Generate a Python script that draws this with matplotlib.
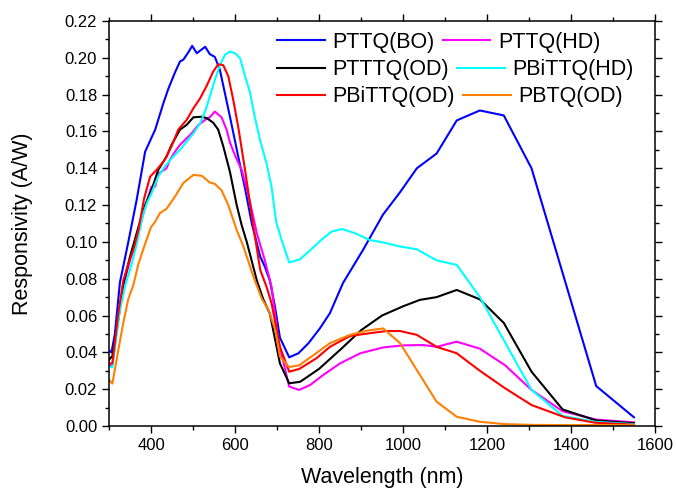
import matplotlib
matplotlib.use('Agg')
from matplotlib import pyplot as plt
from matplotlib.ticker import MultipleLocator
from matplotlib.legend import Legend

plt.rcParams['font.family'] = ['Liberation Sans', 'DejaVu Sans']

# PTTQ(BO)
bo_wl = [300, 306, 314, 326, 346, 366, 386, 410, 429, 441, 457, 469, 477, 489, 498,
         509, 529, 540, 552, 564, 588, 608, 624, 640, 660, 671, 683, 695, 707, 729,
         751, 775, 802, 826, 857, 905, 952, 993, 1033, 1080, 1128, 1183, 1240, 1306,
         1460, 1550]
bo_resp = [0.041, 0.040, 0.050, 0.078, 0.100, 0.123, 0.149, 0.161, 0.175, 0.183, 0.192,
           0.198, 0.199, 0.203, 0.2065, 0.2025, 0.206, 0.202, 0.2005, 0.1935, 0.168,
           0.146, 0.129, 0.110, 0.092, 0.0866, 0.079, 0.065, 0.048, 0.0373, 0.0395,
           0.045, 0.053, 0.0613, 0.0776, 0.0957, 0.1147, 0.127, 0.140, 0.148, 0.166,
           0.1714, 0.1687, 0.140, 0.0217, 0.0047]

# PTTQ(HD)
hd_wl = [300, 308, 320, 335, 350, 370, 390, 401, 410, 417, 437, 445, 457, 469, 481,
         497, 513, 529, 540, 552, 568, 580, 588, 600, 616, 632, 652, 671, 687, 703,
         729, 753, 779, 810, 850, 898, 953, 1001, 1048, 1080, 1128, 1183, 1243, 1306,
         1380, 1460, 1550]
hd_resp = [0.033, 0.033, 0.055, 0.077, 0.090, 0.106, 0.122, 0.130, 0.130, 0.137, 0.140,
           0.1446, 0.149, 0.1527, 0.1554, 0.159, 0.1636, 0.1663, 0.1677, 0.1708, 0.1677,
           0.161, 0.154, 0.147, 0.139, 0.1255, 0.1047, 0.090, 0.0757, 0.0467, 0.0214,
           0.0196, 0.0223, 0.0277, 0.034, 0.0395, 0.0427, 0.0438, 0.044, 0.043, 0.0458,
           0.042, 0.033, 0.0196, 0.008, 0.0035, 0.002]

# PTTTQ(OD)
ttt_wl = [300, 308, 320, 335, 350, 370, 386, 401, 417, 437, 449, 469, 485, 501, 521,
          533, 548, 560, 572, 588, 604, 616, 628, 652, 667, 683, 707, 729, 755, 800,
          850, 900, 950, 1000, 1040, 1080, 1128, 1183, 1240, 1306, 1380, 1460, 1550]
ttt_resp = [0.036, 0.038, 0.055, 0.078, 0.092, 0.108, 0.120, 0.128, 0.139, 0.1464,
            0.1527, 0.161, 0.1636, 0.1677, 0.168, 0.1672, 0.1648, 0.161, 0.152, 0.138,
            0.120, 0.109, 0.100, 0.079, 0.069, 0.061, 0.034, 0.0232, 0.024, 0.031,
            0.0413, 0.052, 0.060, 0.065, 0.0685, 0.070, 0.0739, 0.0688, 0.056, 0.0295,
            0.009, 0.003, 0.0015]

# PBiTTQ(HD)
bihd_wl = [300, 308, 326, 338, 354, 366, 382, 390, 401, 417, 433, 453, 469, 485, 501,
           517, 529, 540, 552, 564, 576, 588, 600, 612, 624, 636, 646, 660, 675, 687,
           698, 711, 729, 755, 780, 805, 830, 855, 886, 921, 953, 993, 1033, 1080, 1128,
           1183, 1306, 1380, 1457, 1550]
bihd_resp = [0.032, 0.032, 0.063, 0.0757, 0.088, 0.099, 0.1156, 0.121, 0.1264, 0.1355,
             0.141, 0.1464, 0.150, 0.1545, 0.159, 0.1645, 0.171, 0.179, 0.188, 0.196,
             0.2016, 0.2034, 0.2025, 0.1998, 0.190, 0.181, 0.169, 0.155, 0.1427, 0.130,
             0.111, 0.101, 0.0888, 0.0906, 0.0957, 0.101, 0.1056, 0.107, 0.1047, 0.101,
             0.0997, 0.0975, 0.096, 0.090, 0.0875, 0.070, 0.0196, 0.0055, 0.0023, 0.001]

# PBiTTQ(OD)
biod_wl = [300, 308, 322, 334, 346, 358, 370, 384, 398, 413, 433, 449, 465, 485, 501,
           517, 533, 548, 560, 572, 584, 596, 608, 624, 644, 660, 675, 687, 707, 729,
           753, 794, 826, 874, 921, 961, 993, 1033, 1080, 1128, 1183, 1243, 1306, 1386,
           1457, 1550]
biod_resp = [0.034, 0.034, 0.061, 0.079, 0.088, 0.0957, 0.1065, 0.124, 0.1355, 0.139,
             0.1446, 0.152, 0.161, 0.1663, 0.1726, 0.178, 0.185, 0.1925, 0.1965, 0.196,
             0.190, 0.177, 0.162, 0.139, 0.108, 0.0848, 0.0757, 0.0667, 0.043, 0.0295,
             0.031, 0.0368, 0.043, 0.0489, 0.0504, 0.0516, 0.0516, 0.0495, 0.043, 0.0395,
             0.030, 0.0205, 0.0114, 0.0047, 0.0018, 0.0007]

# PBTQ(OD)
bt_wl = [300, 308, 322, 334, 346, 358, 370, 386, 400, 410, 421, 437, 457, 477, 501,
         521, 540, 552, 568, 584, 604, 620, 644, 664, 680, 696, 707, 729, 753, 790,
         826, 874, 914, 953, 993, 1080, 1128, 1183, 1243, 1310, 1380, 1460, 1550]
bt_resp = [0.025, 0.023, 0.041, 0.056, 0.069, 0.0766, 0.088, 0.099, 0.108, 0.111,
           0.1156, 0.118, 0.1246, 0.132, 0.1364, 0.1359, 0.1323, 0.1315, 0.128, 0.120,
           0.1065, 0.0975, 0.081, 0.069, 0.063, 0.052, 0.0377, 0.032, 0.033, 0.039,
           0.045, 0.0495, 0.0518, 0.053, 0.045, 0.0132, 0.005, 0.0023, 0.001, 0.0006,
           0.0005, 0.0005, 0.0005]

series = [
    ('PTTQ(BO)', bo_wl, bo_resp, '#0000ff'),
    ('PTTQ(HD)', hd_wl, hd_resp, '#ff00ff'),
    ('PTTTQ(OD)', ttt_wl, ttt_resp, '#000000'),
    ('PBiTTQ(HD)', bihd_wl, bihd_resp, '#00ffff'),
    ('PBiTTQ(OD)', biod_wl, biod_resp, '#ff0000'),
    ('PBTQ(OD)', bt_wl, bt_resp, '#ff8000'),
]

fig = plt.figure(figsize=(6.76, 4.9), dpi=100)
ax = fig.add_axes([109 / 676, 64 / 490, 546 / 676, 405 / 490])

handles = []
for name, wl, resp, c in series:
    line, = ax.plot(wl, resp, color=c, lw=1.5, label=name)
    handles.append(line)

ax.set_xlim(300, 1600)
ax.set_ylim(0, 0.22)
ax.xaxis.set_minor_locator(MultipleLocator(100))
ax.yaxis.set_major_locator(MultipleLocator(0.02))
ax.yaxis.set_minor_locator(MultipleLocator(0.01))
ax.set_xticks([400, 600, 800, 1000, 1200, 1400, 1600])
ax.yaxis.set_major_formatter(plt.FormatStrFormatter('%.2f'))

for s in ax.spines.values():
    s.set_linewidth(1.1)
ax.tick_params(which='both', direction='out', top=True, right=True,
               labeltop=False, labelright=False, width=1.0, labelsize=12)
ax.tick_params(which='major', length=5)
ax.tick_params(which='minor', length=3)

ax.set_xlabel('Wavelength (nm)', fontsize=15.5)
ax.set_ylabel('Responsivity (A/W)', fontsize=15.5)
ax.xaxis.set_label_coords(0.5, -0.1)
ax.yaxis.set_label_coords(-0.139, 0.5)

# legend laid out row by row, two entries per row
rows = [(0, 1), (2, 3), (4, 5)]
for i, (a, b) in enumerate(rows):
    leg = Legend(ax, [handles[a], handles[b]], [series[a][0], series[b][0]],
                 ncol=2, frameon=False, fontsize=15.5,
                 loc='upper left', bbox_to_anchor=(0.308, 0.973 - i * 0.067),
                 borderpad=0, borderaxespad=0, handlelength=2.2,
                 handletextpad=0.35, columnspacing=0.4)
    ax.add_artist(leg)

fig.savefig('out.png', dpi=100)
